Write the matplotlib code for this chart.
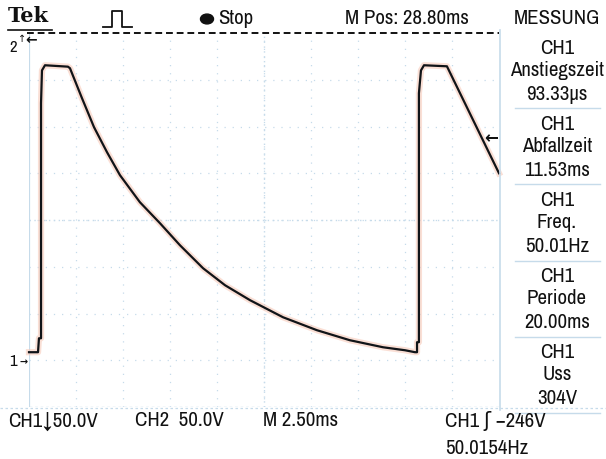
import matplotlib
matplotlib.use("Agg")
import matplotlib.pyplot as plt
from matplotlib import font_manager
from matplotlib.lines import Line2D
from matplotlib.patches import Circle

# the scope uses a narrow sans face; take a condensed one if there is one
narrow = sorted({f.name for f in font_manager.fontManager.ttflist
                 if 'Narrow' in f.name or 'Condensed' in f.name})
if narrow:
    plt.rcParams['font.family'] = [narrow[0], 'DejaVu Sans']
    FS = 15
else:
    plt.rcParams['font.family'] = ['Liberation Sans', 'DejaVu Sans']
    FS = 12.5

# CH1 trace, time in ms from left screen edge, voltage relative to CH1 ground
t_ms = [0.0, 0.48, 0.53, 0.64, 0.64, 0.69, 0.85, 2.07, 2.18, 2.82, 3.46, 4.15,
        4.84, 5.90, 6.97, 8.03, 9.26, 10.43, 11.76, 13.51, 15.32, 17.07,
        18.83, 20.00, 20.53, 20.64, 20.64, 20.74, 20.74, 20.85, 21.01, 22.23, 25.0]
v_ch1 = [8.6, 8.6, 23.5, 23.5, 275, 310, 315.5, 314, 312.3, 280.2, 249.2, 222.5,
         197.9, 169.0, 146.5, 123.0, 98.4, 80.2, 64.2, 46.0, 32.1, 21.4,
         13.9, 10.7, 8.6, 8.6, 19.3, 19.3, 285.6, 310, 315.5, 314.4, 200]

volts_per_div = 50.0
ms_per_div = 2.5
trig_marker_v = 238

meas_names = ['Anstiegszeit', 'Abfallzeit', 'Freq.', 'Periode', 'Uss']
meas_values = ['93.33\u00b5s', '11.53ms', '50.01Hz', '20.00ms', '304V']

W, H = 606, 459
fig = plt.figure(figsize=(W / 100, H / 100), dpi=100)
fig.patch.set_facecolor('white')


def fx(x):
    return x / W


def fy(y):
    return 1 - y / H


def ftext(x, y, s, **kw):
    kw.setdefault('va', 'center')
    kw.setdefault('fontsize', FS)
    kw.setdefault('color', '#111111')
    fig.text(fx(x), fy(y), s, **kw)


left, right, top, bottom = 29, 499, 33, 407
ax = fig.add_axes([fx(left), fy(bottom), (right - left) / W, (bottom - top) / H])
ax.set_xlim(0, 10 * ms_per_div)
ax.set_ylim(-volts_per_div, 7 * volts_per_div)
ax.set_facecolor('white')
for s in ax.spines.values():
    s.set_visible(False)
ax.set_xticks([])
ax.set_yticks([])

grid_c = '#c6dbea'
for k in range(1, 10):
    ax.axvline(k * ms_per_div, color=grid_c, lw=0.9, ls=(0, (1, 5.5)))
for k in range(1, 8):
    ax.axhline(-volts_per_div + k * volts_per_div, color=grid_c, lw=0.9, ls=(0, (1, 5.5)))
# centre cross lines, denser
ax.axvline(5 * ms_per_div, color=grid_c, lw=1.0, ls=(0, (1, 2.5)))
ax.axhline(3 * volts_per_div, color=grid_c, lw=1.0, ls=(0, (1, 2.5)))
ax.axvline(0, color=grid_c, lw=1.6)
ax.axhline(-volts_per_div, color=grid_c, lw=1.0, ls=(0, (2, 2)))

# trace with faint halo
ax.plot(t_ms, v_ch1, color='#f6c6b4', lw=4.5, alpha=0.55, solid_joinstyle='round', clip_on=False)
ax.plot(t_ms, v_ch1, color='#101418', lw=1.6, solid_joinstyle='round', clip_on=False)

# trigger level marker
ax.text(10 * ms_per_div - 0.05, trig_marker_v, '\u2190', ha='right', va='center',
        fontsize=12, fontweight='bold', color='#111111', family='DejaVu Sans')

# top dashed line
fig.add_artist(Line2D([fx(27), fx(499)], [fy(33), fy(33)], color='#111111', lw=1.4,
                      ls=(0, (3.5, 2))))
# right panel border and separators
fig.add_artist(Line2D([fx(500), fx(500)], [fy(30), fy(410)], color=grid_c, lw=1.2))
fig.add_artist(Line2D([fx(0), fx(606)], [fy(408), fy(408)], color=grid_c, lw=0.9,
                      ls=(0, (2, 2))))
for ys in [108, 184, 261, 337, 413]:
    fig.add_artist(Line2D([fx(515), fx(600)], [fy(ys), fy(ys)], color=grid_c, lw=1.0))

# header
ftext(8, 16, 'Tek', fontsize=15, fontweight='bold', family='DejaVu Serif')
fig.add_artist(Line2D([fx(8), fx(52)], [fy(30), fy(30)], color='#111111', lw=1.2))
fig.add_artist(Line2D([fx(103), fx(112), fx(112), fx(122), fx(122), fx(132)],
                      [fy(27), fy(27), fy(11), fy(11), fy(27), fy(27)],
                      color='#111111', lw=1.3))
fig.add_artist(Circle((fx(207), fy(19)), 6.5 / W, transform=fig.transFigure,
                      color='#111111'))
ftext(218, 18, 'Stop')
ftext(345, 18, 'M Pos: 28.80ms')
ftext(557, 19, 'MESSUNG', ha='center')

# channel markers
ftext(9, 47, '2', fontsize=12)
ftext(18, 39, '\u2191', fontsize=7, family='DejaVu Sans')
ftext(25, 40, '\u2190', fontsize=10, fontweight='bold', family='DejaVu Sans')
ftext(9, 362, '1', fontsize=12)
ftext(19, 362, '\u2192', fontsize=7, fontweight='bold', family='DejaVu Sans')

# measurement panel
for i, (name, val) in enumerate(zip(meas_names, meas_values)):
    y0 = 48 + i * 76
    ftext(557, y0, 'CH1', ha='center')
    ftext(557, y0 + 23, name, ha='center')
    ftext(557, y0 + 46, val, ha='center')

# footer
ftext(8, 421, 'CH1\u219350.0V')
ftext(135, 421, 'CH2  50.0V')
ftext(263, 421, 'M 2.50ms')
ftext(445, 421, 'CH1 \u0283 \u2212246V')
ftext(445, 448, '50.0154Hz')

fig.savefig('out.png', dpi=100, facecolor='white')
